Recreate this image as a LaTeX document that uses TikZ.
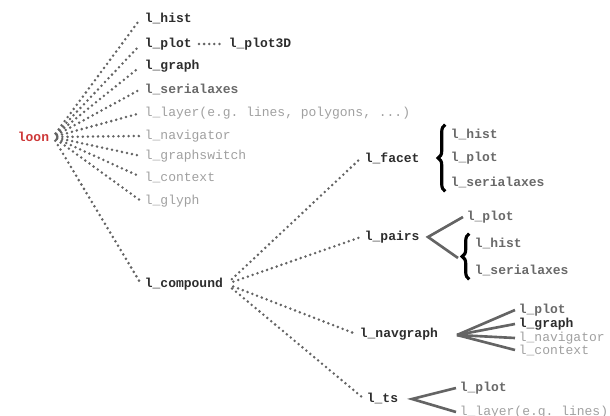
\documentclass[tikz,border=0pt]{standalone}
\usepackage{fontspec}
\setmonofont{Liberation Mono}
\usepackage{xcolor}
\usetikzlibrary{decorations.pathreplacing}
\definecolor{loonred}{RGB}{205,55,55}
\definecolor{darkname}{RGB}{45,45,45}
\definecolor{midname}{RGB}{105,105,105}
\definecolor{lightname}{RGB}{160,160,160}
\definecolor{edgegray}{RGB}{100,100,100}
\tikzset{
    tname/.style = {anchor=west, inner sep=2pt, font=\ttfamily\fontsize{7.4}{8}\selectfont},
    root_name/.style = {tname, loonred, font=\ttfamily\bfseries\fontsize{7.4}{8}\selectfont},
    dark_name/.style = {tname, darkname, font=\ttfamily\bfseries\fontsize{7.4}{8}\selectfont},
    mid_name/.style = {tname, midname, font=\ttfamily\bfseries\fontsize{7.4}{8}\selectfont},
    light_name/.style = {tname, lightname},
    dot_edge/.style = {draw=edgegray, line width=1.6pt, dash pattern=on 0pt off 2.9pt, line cap=round},
    solid_edge/.style = {draw=edgegray, line width=1.5pt},
    group_brace/.style = {decorate, decoration={brace, amplitude=4pt}, line width=1.8pt, black}
}
\begin{document}
\begin{tikzpicture}[x=0.02cm, y=-0.02cm]
    \useasboundingbox (0,0) rectangle (610,416);

    % root
    \node [root_name] (loon) at (14,137) {loon};

    % first level
    \node [dark_name] (hist) at (141,18) {l\_hist};
    \node [dark_name] (plot) at (141,44) {l\_plot};
    \node [dark_name] (plotthreed) at (225,44) {l\_plot3D};
    \node [dark_name] (graph) at (141,66) {l\_graph};
    \node [mid_name] (serialaxes) at (141,89) {l\_serialaxes};
    \node [light_name] (layer) at (141,113) {l\_layer(e.g. lines, polygons, ...)};
    \node [light_name] (navigator) at (141,136) {l\_navigator};
    \node [light_name] (graphswitch) at (141,156) {l\_graphswitch};
    \node [light_name] (context) at (141,177) {l\_context};
    \node [light_name] (glyph) at (141,201) {l\_glyph};
    \node [dark_name] (compound) at (141,284) {l\_compound};

    \foreach \child in {hist, plot, graph, serialaxes, layer, navigator, graphswitch, context, glyph, compound}
        \draw [dot_edge, shorten <=2.5pt, shorten >=1pt] (loon.east) -- (\child.west);
    \draw [dot_edge, shorten <=2pt, shorten >=2pt] (plot.east) -- (plotthreed.west);

    % second level
    \node [dark_name] (facet) at (361,158) {l\_facet};
    \node [dark_name] (pairs) at (361,237) {l\_pairs};
    \node [dark_name] (navgraph) at (356,334) {l\_navgraph};
    \node [dark_name] (ts) at (363,398) {l\_ts};

    \foreach \child in {facet, pairs, navgraph, ts}
        \draw [dot_edge, shorten <=4pt, shorten >=1pt] (compound.east) -- (\child.west);

    % l_facet
    \node [mid_name] (facet_hist) at (447,134) {l\_hist};
    \node [mid_name] (facet_plot) at (447,158) {l\_plot};
    \node [mid_name] (facet_serial) at (447,182) {l\_serialaxes};
    \draw [group_brace] ([xshift=-1pt]facet_serial.south west) -- ([xshift=-1pt]facet_hist.north west);

    % l_pairs
    \node [mid_name] (pairs_plot) at (463,217) {l\_plot};
    \node [mid_name] (pairs_hist) at (471,243) {l\_hist};
    \node [mid_name] (pairs_serial) at (471,270) {l\_serialaxes};
    \coordinate (pairs_tip) at (428,237);
    \coordinate (pairs_group) at (458,258);
    \draw [solid_edge] (pairs_plot.west) -- (pairs_tip) -- (pairs_group);
    \draw [group_brace] ([xshift=-1pt]pairs_serial.south west) -- ([xshift=-1pt]pairs_hist.north west);

    % l_navgraph
    \node [mid_name] (nav_plot) at (515,310) {l\_plot};
    \node [dark_name] (nav_graph) at (515,324) {l\_graph};
    \node [light_name] (nav_navigator) at (515,338) {l\_navigator};
    \node [light_name] (nav_context) at (515,350) {l\_context};
    \coordinate (nav_tip) at (457,335);
    \foreach \child in {nav_plot, nav_graph, nav_navigator, nav_context}
        \draw [solid_edge] (nav_tip) -- (\child.west);

    % l_ts
    \node [mid_name] (ts_plot) at (456,388) {l\_plot};
    \node [light_name] (ts_layer) at (456,412) {l\_layer(e.g. lines)};
    \coordinate (ts_tip) at (412,399);
    \draw [solid_edge] (ts_plot.west) -- (ts_tip) -- (ts_layer.west);
\end{tikzpicture}
\end{document}
